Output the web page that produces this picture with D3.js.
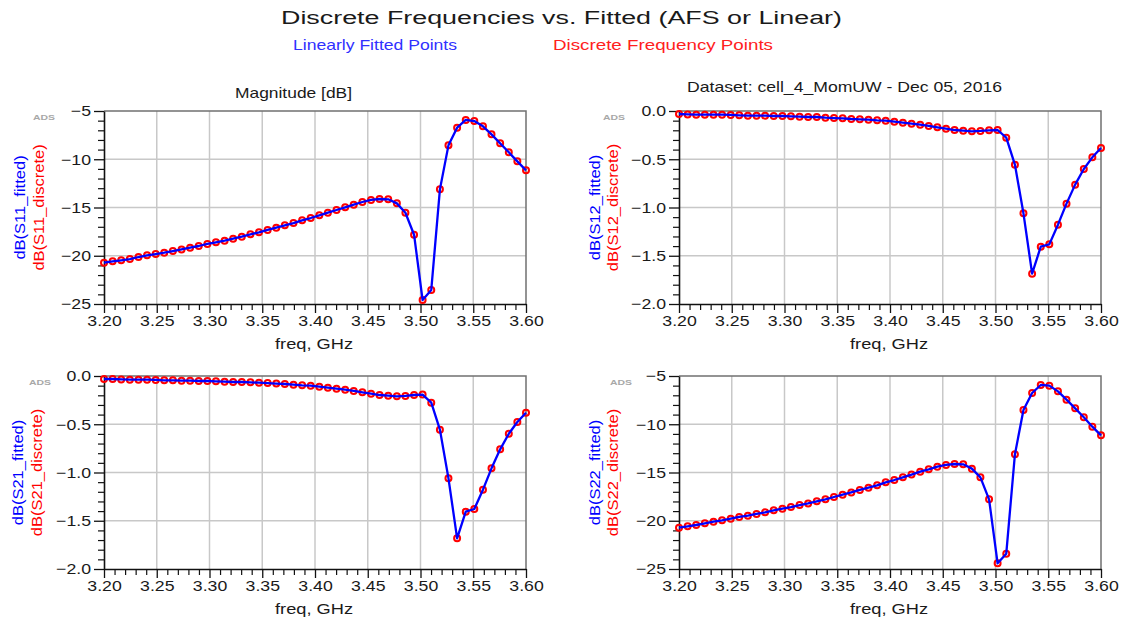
<!DOCTYPE html>
<html>
<head>
<meta charset="utf-8">
<script src="https://cdn.jsdelivr.net/npm/d3@7"></script>
<style>
  html, body { margin: 0; padding: 0; background: #fff; }
  svg { display: block; font-family: "Liberation Sans", Arial, sans-serif; }
</style>
</head>
<body>
<svg id="chart" width="1123" height="619"></svg>
<script>
// ---------------- data ----------------
const freq = [3.2000,3.2082,3.2163,3.2245,3.2327,3.2408,3.2490,3.2571,3.2653,3.2735,
  3.2816,3.2898,3.2980,3.3061,3.3143,3.3224,3.3306,3.3388,3.3469,3.3551,
  3.3633,3.3714,3.3796,3.3878,3.3959,3.4041,3.4122,3.4204,3.4286,3.4367,
  3.4449,3.4531,3.4612,3.4694,3.4776,3.4857,3.4939,3.5020,3.5102,3.5184,
  3.5265,3.5347,3.5429,3.5510,3.5592,3.5673,3.5755,3.5837,3.5918,3.6000];

const s11Discrete = [-20.72,-20.58,-20.47,-20.34,-20.13,-19.96,-19.82,-19.68,-19.51,-19.34,
  -19.16,-18.99,-18.78,-18.61,-18.44,-18.23,-18.02,-17.78,-17.57,-17.33,
  -17.09,-16.85,-16.61,-16.33,-16.09,-15.81,-15.54,-15.26,-14.98,-14.71,
  -14.43,-14.22,-14.12,-14.15,-14.57,-15.54,-17.82,-24.59,-23.55,-13.12,
  -8.56,-6.73,-5.93,-6.04,-6.59,-7.42,-8.35,-9.28,-10.22,-11.15];
const s11Fitted = s11Discrete.slice();

const s12Discrete = [-0.031,-0.035,-0.038,-0.038,-0.038,-0.038,-0.041,-0.045,-0.048,-0.048,
  -0.048,-0.052,-0.052,-0.055,-0.059,-0.062,-0.062,-0.069,-0.073,-0.076,
  -0.083,-0.086,-0.090,-0.097,-0.100,-0.111,-0.121,-0.131,-0.142,-0.155,
  -0.169,-0.183,-0.197,-0.204,-0.211,-0.207,-0.200,-0.197,-0.276,-0.556,
  -1.060,-1.686,-1.406,-1.382,-1.178,-0.960,-0.763,-0.601,-0.480,-0.383];
const s12Fitted = s12Discrete.slice();

const s21Discrete = [-0.031,-0.031,-0.035,-0.038,-0.038,-0.038,-0.041,-0.045,-0.045,-0.048,
  -0.048,-0.052,-0.052,-0.055,-0.059,-0.062,-0.062,-0.066,-0.069,-0.073,
  -0.079,-0.083,-0.090,-0.097,-0.100,-0.111,-0.121,-0.131,-0.142,-0.155,
  -0.169,-0.183,-0.197,-0.204,-0.211,-0.207,-0.197,-0.193,-0.276,-0.556,
  -1.060,-1.682,-1.406,-1.378,-1.178,-0.957,-0.760,-0.598,-0.477,-0.380];
const s21Fitted = s21Discrete.slice();

const s22Discrete = [-20.72,-20.58,-20.44,-20.27,-20.10,-19.96,-19.78,-19.61,-19.47,-19.30,
  -19.13,-18.92,-18.75,-18.58,-18.37,-18.20,-17.99,-17.78,-17.54,-17.30,
  -17.06,-16.81,-16.57,-16.33,-16.02,-15.78,-15.50,-15.22,-14.91,-14.67,
  -14.40,-14.22,-14.12,-14.15,-14.60,-15.50,-17.78,-24.41,-23.41,-13.12,
  -8.52,-6.76,-5.93,-6.00,-6.59,-7.45,-8.35,-9.28,-10.25,-11.15];
const s22Fitted = s22Discrete.slice();

const xTicks = [3.20,3.25,3.30,3.35,3.40,3.45,3.50,3.55,3.60];
const xMinorTicks = [3.21,3.22,3.23,3.24,3.26,3.27,3.28,3.29,3.31,3.32,3.33,3.34,3.36,3.37,3.38,3.39,
  3.41,3.42,3.43,3.44,3.46,3.47,3.48,3.49,3.51,3.52,3.53,3.54,3.56,3.57,3.58,3.59];
const yTicksDb = [-5,-10,-15,-20,-25];
const yMinorDb = [-6,-7,-8,-9,-11,-12,-13,-14,-16,-17,-18,-19,-21,-22,-23,-24];
const yTicksLin = [0,-0.5,-1.0,-1.5,-2.0];
const yMinorLin = [-0.1,-0.2,-0.3,-0.4,-0.6,-0.7,-0.8,-0.9,-1.1,-1.2,-1.3,-1.4,-1.6,-1.7,-1.8,-1.9];

const titleText = "Discrete Frequencies vs. Fitted (AFS or Linear)";
const legendFitted = "Linearly Fitted Points";
const legendDiscrete = "Discrete Frequency Points";

// ---------------- layout ----------------
const BLUE = "#0000ff", RED = "#ff0000";
const svg = d3.select("#chart");
const STRETCH = 1.18;

function stretch(sel, factor) {
  sel.each(function () {
    const len = this.getComputedTextLength();
    if (len > 0) {
      d3.select(this).attr("textLength", len * (factor || STRETCH)).attr("lengthAdjust", "spacingAndGlyphs");
    }
  });
}
function fixed(sel, len) {
  sel.attr("textLength", len).attr("lengthAdjust", "spacingAndGlyphs");
}

// title + legend
svg.append("text").attr("x", 281).attr("y", 24).attr("font-size", 18).attr("fill", "#1a1a1a")
  .text(titleText).call(fixed, 561);
svg.append("text").attr("x", 293).attr("y", 50).attr("font-size", 15).attr("fill", "#3030ff")
  .text(legendFitted).call(fixed, 164);
svg.append("text").attr("x", 553).attr("y", 50).attr("font-size", 15).attr("fill", "#ff2020")
  .text(legendDiscrete).call(fixed, 220);

const panels = [
  {x0:104, x1:526, y0:111, y1:304, dom:[-25,-5], ticks:yTicksDb, minor:yMinorDb, fmt:d3.format("d"),
   fit:s11Fitted, disc:s11Discrete, lb:"dB(S11_fitted)", lr:"dB(S11_discrete)", bx:19, rx:38, ax:33},
  {x0:679, x1:1101, y0:111, y1:304, dom:[-2,0], ticks:yTicksLin, minor:yMinorLin, fmt:d3.format(".1f"),
   fit:s12Fitted, disc:s12Discrete, lb:"dB(S12_fitted)", lr:"dB(S12_discrete)", bx:594, rx:612, ax:603},
  {x0:104, x1:526, y0:376, y1:569, dom:[-2,0], ticks:yTicksLin, minor:yMinorLin, fmt:d3.format(".1f"),
   fit:s21Fitted, disc:s21Discrete, lb:"dB(S21_fitted)", lr:"dB(S21_discrete)", bx:17, rx:36, ax:29},
  {x0:679, x1:1101, y0:376, y1:569, dom:[-25,-5], ticks:yTicksDb, minor:yMinorDb, fmt:d3.format("d"),
   fit:s22Fitted, disc:s22Discrete, lb:"dB(S22_fitted)", lr:"dB(S22_discrete)", bx:594, rx:612, ax:610}
];

panels.forEach(p => {
  const x = d3.scaleLinear().domain([3.2, 3.6]).range([p.x0, p.x1]);
  const y = d3.scaleLinear().domain(p.dom).range([p.y1, p.y0]);
  const g = svg.append("g");

  // grid
  g.append("g").selectAll("line").data(xTicks.slice(1, -1)).join("line")
    .attr("x1", d => x(d)).attr("x2", d => x(d)).attr("y1", p.y0).attr("y2", p.y1)
    .attr("stroke", "#c8c8c8").attr("stroke-width", 1.5);
  g.append("g").selectAll("line").data(p.ticks.filter(t => t > p.dom[0] && t < p.dom[1])).join("line")
    .attr("x1", p.x0).attr("x2", p.x1).attr("y1", d => y(d)).attr("y2", d => y(d))
    .attr("stroke", "#c8c8c8").attr("stroke-width", 1.5);

  // frame top/right
  g.append("path").attr("d", `M${p.x0},${p.y0}H${p.x1}V${p.y1}`)
    .attr("fill", "none").attr("stroke", "#707070").attr("stroke-width", 1.5);

  // minor ticks
  g.append("g").attr("transform", `translate(0,${p.y1})`)
    .call(d3.axisBottom(x).tickValues(xMinorTicks).tickSize(6).tickSizeOuter(0).tickFormat(""))
    .call(s => s.select(".domain").remove())
    .call(s => s.selectAll("line").attr("stroke", "#111").attr("stroke-width", 1.2));
  g.append("g").attr("transform", `translate(${p.x0},0)`)
    .call(d3.axisLeft(y).tickValues(p.minor).tickSize(6).tickSizeOuter(0).tickFormat(""))
    .call(s => s.select(".domain").remove())
    .call(s => s.selectAll("line").attr("stroke", "#111").attr("stroke-width", 1.2));

  // major axes
  const xa = g.append("g").attr("transform", `translate(0,${p.y1})`)
    .call(d3.axisBottom(x).tickValues(xTicks).tickSize(9).tickSizeOuter(0).tickPadding(2).tickFormat(d3.format(".2f")));
  const ya = g.append("g").attr("transform", `translate(${p.x0},0)`)
    .call(d3.axisLeft(y).tickValues(p.ticks).tickSize(10).tickSizeOuter(0).tickPadding(3).tickFormat(p.fmt));
  [xa, ya].forEach(a => {
    a.attr("font-family", null).attr("font-size", null);
    a.select(".domain").attr("stroke", "#111").attr("stroke-width", 1.6);
    a.selectAll(".tick line").attr("stroke", "#111").attr("stroke-width", 1.3);
    a.selectAll(".tick text").attr("font-size", 15).attr("fill", "#1a1a1a").call(stretch);
  });

  // x axis label
  svg.append("text").attr("x", (p.x0 + p.x1) / 2 - 1).attr("y", p.y1 + 45).attr("text-anchor", "middle")
    .attr("font-size", 15).attr("fill", "#1a1a1a").text("freq, GHz").call(fixed, 78);

  // y axis labels
  const cy = (p.y0 + p.y1) / 2;
  svg.append("text").attr("transform", `translate(${p.bx},${cy}) rotate(-90)`)
    .attr("text-anchor", "middle").attr("dominant-baseline", "central")
    .attr("font-size", 15).attr("fill", BLUE).text(p.lb).call(stretch, 1.1);
  svg.append("text").attr("transform", `translate(${p.rx},${cy}) rotate(-90)`)
    .attr("text-anchor", "middle").attr("dominant-baseline", "central")
    .attr("font-size", 15).attr("fill", RED).text(p.lr).call(stretch, 1.1);

  // ADS
  svg.append("text").attr("x", p.ax).attr("y", p.y0 + 9).attr("font-size", 8).attr("font-weight", "bold")
    .attr("fill", "#a8a8a8").text("ADS").call(fixed, 22);

  // discrete markers
  g.append("g").selectAll("circle").data(p.disc).join("circle")
    .attr("cx", (d, i) => x(freq[i])).attr("cy", d => y(d)).attr("r", 3)
    .attr("fill", "none").attr("stroke", RED).attr("stroke-width", 2);

  // fitted line
  g.append("path").datum(p.fit)
    .attr("d", d3.line().x((d, i) => x(freq[i])).y(d => y(d)))
    .attr("fill", "none").attr("stroke", BLUE).attr("stroke-width", 2.3).attr("stroke-linejoin", "round");
});

// panel subtitles
svg.append("text").attr("x", 235).attr("y", 98).attr("font-size", 15).attr("fill", "#1a1a1a")
  .text("Magnitude [dB]").call(fixed, 117);
svg.append("text").attr("x", 687).attr("y", 92).attr("font-size", 15).attr("fill", "#1a1a1a")
  .text("Dataset: cell_4_MomUW - Dec 05, 2016").call(fixed, 315);
</script>
</body>
</html>
